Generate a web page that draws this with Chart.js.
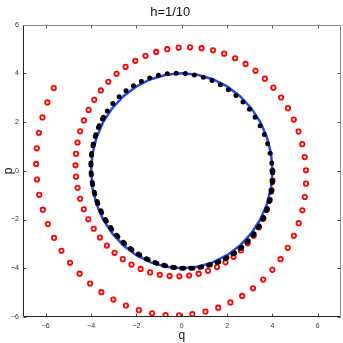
<!DOCTYPE html>
<html>
<head>
<meta charset="utf-8">
<script src="https://cdn.jsdelivr.net/npm/chart.js@4.4.1/dist/chart.umd.min.js"></script>
<style>
  html, body { margin: 0; padding: 0; background: #fff; }
  #wrap { width: 343px; height: 343px; }
</style>
</head>
<body>
<div id="wrap"><canvas id="chart" width="343" height="343"></canvas></div>
<script>
// explicit Euler (red open circles)
const qExplicit = [4.000, 4.000, 3.960, 3.880, 3.760, 3.602, 3.406, 3.174, 2.908, 2.610,
  2.283, 1.930, 1.554, 1.159, 0.748, 0.326, -0.104, -0.537, -0.969, -1.396,
  -1.813, -2.216, -2.601, -2.964, -3.301, -3.608, -3.882, -4.120, -4.319, -4.477,
  -4.592, -4.662, -4.686, -4.663, -4.594, -4.478, -4.316, -4.109, -3.859, -3.568,
  -3.238, -2.873, -2.475, -2.049, -1.598, -1.126, -0.638, -0.139, 0.367, 0.874,
  1.377, 1.872, 2.353, 2.815, 3.254, 3.664, 4.042, 4.383, 4.684, 4.941,
  5.151, 5.312, 5.421, 5.477, 5.479, 5.426, 5.319, 5.157, 4.942, 4.675,
  4.359, 3.996, 3.590, 3.144, 2.662, 2.148, 1.608, 1.046, 0.468, -0.120,
  -0.713, -1.305, -1.890, -2.462, -3.015, -3.543, -4.041, -4.504, -4.926, -5.303,
  -5.631, -5.906, -6.125, -6.285, -6.384, -6.420, -6.392, -6.300, -6.144, -5.925, -5.644];
const pExplicit = [0.000, -0.400, -0.800, -1.196, -1.584, -1.960, -2.320, -2.661, -2.978, -3.269,
  -3.530, -3.758, -3.951, -4.106, -4.222, -4.297, -4.330, -4.320, -4.266, -4.169,
  -4.029, -3.848, -3.626, -3.366, -3.070, -2.740, -2.379, -1.991, -1.579, -1.147,
  -0.699, -0.240, 0.226, 0.695, 1.161, 1.620, 2.068, 2.500, 2.911, 3.297,
  3.654, 3.978, 4.265, 4.513, 4.718, 4.878, 4.991, 5.055, 5.069, 5.032,
  4.945, 4.807, 4.620, 4.385, 4.104, 3.779, 3.413, 3.009, 2.571, 2.103,
  1.609, 1.094, 0.563, 0.021, -0.527, -1.075, -1.618, -2.150, -2.666, -3.160,
  -3.628, -4.064, -4.464, -4.823, -5.137, -5.403, -5.618, -5.779, -5.884, -5.931,
  -5.919, -5.848, -5.718, -5.529, -5.283, -4.982, -4.628, -4.224, -3.774, -3.281,
  -2.751, -2.188, -1.597, -0.985, -0.357, 0.281, 0.923, 1.562, 2.192, 2.806, 3.399];

// symplectic Euler (black dots)
const qSymplectic = [4.000, 4.000, 3.960, 3.880, 3.762, 3.606, 3.414, 3.188, 2.930, 2.642,
  2.328, 1.991, 1.634, 1.261, 0.875, 0.480, 0.081, -0.320, -0.717, -1.107,
  -1.486, -1.850, -2.195, -2.519, -2.817, -3.087, -3.327, -3.533, -3.704, -3.837,
  -3.933, -3.989, -4.005, -3.981, -3.917, -3.814, -3.673, -3.495, -3.283, -3.037,
  -2.761, -2.458, -2.130, -1.780, -1.413, -1.032, -0.640, -0.242, 0.159, 0.557,
  0.951, 1.335, 1.705, 2.058, 2.391, 2.700, 2.982, 3.234, 3.454, 3.639,
  3.788, 3.899, 3.971, 4.003, 3.995, 3.948, 3.860, 3.735, 3.571, 3.373,
  3.140, 2.876, 2.583, 2.265, 1.923, 1.563, 1.187, 0.799, 0.403, 0.003,
  -0.397, -0.793, -1.181, -1.558, -1.918, -2.260, -2.579, -2.872, -3.136, -3.369,
  -3.569, -3.733, -3.859, -3.947, -3.995, -4.003, -3.972, -3.900, -3.790, -3.642, -3.457];
const pSymplectic = [0.000, -0.400, -0.796, -1.184, -1.560, -1.921, -2.262, -2.581, -2.874, -3.138,
  -3.371, -3.570, -3.734, -3.860, -3.947, -3.995, -4.003, -3.971, -3.900, -3.789,
  -3.640, -3.455, -3.236, -2.984, -2.702, -2.394, -2.061, -1.708, -1.337, -0.953,
  -0.560, -0.161, 0.239, 0.637, 1.029, 1.410, 1.778, 2.127, 2.456, 2.759,
  3.035, 3.281, 3.494, 3.672, 3.813, 3.917, 3.981, 4.005, 3.989, 3.933,
  3.838, 3.705, 3.534, 3.328, 3.089, 2.819, 2.521, 2.198, 1.852, 1.488,
  1.109, 0.720, 0.322, -0.078, -0.477, -0.872, -1.258, -1.632, -1.989, -2.326,
  -2.640, -2.928, -3.186, -3.412, -3.605, -3.761, -3.880, -3.960, -4.000, -4.000,
  -3.960, -3.881, -3.763, -3.607, -3.415, -3.189, -2.932, -2.644, -2.331, -1.994,
  -1.637, -1.264, -0.878, -0.483, -0.084, 0.317, 0.714, 1.104, 1.483, 1.847, 2.193];

// exact solution (blue circle of radius 4)
const qExact = [4, 3.939, 3.759, 3.464, 3.064, 2.571, 2, 1.368, 0.695, 0,
  -0.695, -1.368, -2, -2.571, -3.064, -3.464, -3.759, -3.939, -4,
  -3.939, -3.759, -3.464, -3.064, -2.571, -2, -1.368, -0.695, 0,
  0.695, 1.368, 2, 2.571, 3.064, 3.464, 3.759, 3.939, 4];
const pExact = [0, 0.695, 1.368, 2, 2.571, 3.064, 3.464, 3.759, 3.939, 4,
  3.939, 3.759, 3.464, 3.064, 2.571, 2, 1.368, 0.695, 0,
  -0.695, -1.368, -2, -2.571, -3.064, -3.464, -3.759, -3.939, -4,
  -3.939, -3.759, -3.464, -3.064, -2.571, -2, -1.368, -0.695, 0];

const qTicks = [-6, -4, -2, 0, 2, 4, 6];
const pTicks = [-6, -4, -2, 0, 2, 4, 6];

const toPoints = (xs, ys) => xs.map((x, i) => ({ x: x, y: ys[i] }));
const fmt = v => (v < 0 ? '\u2212' + Math.abs(v) : String(v));
const FONT = 'Liberation Sans, Arial, sans-serif';

// MATLAB-like box with ticks pointing inward
const boxTicks = {
  id: 'boxTicks',
  afterDraw(chart) {
    const { ctx, chartArea: a, scales } = chart;
    const L = Math.round(a.left) + 0.5, R = Math.round(a.right) - 0.5;
    const T = Math.round(a.top) + 0.5, B = Math.round(a.bottom) - 0.5;
    ctx.save();
    ctx.lineWidth = 1;
    ctx.strokeStyle = '#555';
    ctx.beginPath();
    qTicks.forEach(v => {
      const x = Math.round(scales.x.getPixelForValue(v)) + 0.5;
      ctx.moveTo(x, B); ctx.lineTo(x, B - 3);
      ctx.moveTo(x, T); ctx.lineTo(x, T + 3);
    });
    pTicks.forEach(v => {
      const y = Math.round(scales.y.getPixelForValue(v)) + 0.5;
      ctx.moveTo(L, y); ctx.lineTo(L + 3, y);
      ctx.moveTo(R, y); ctx.lineTo(R - 3, y);
    });
    ctx.stroke();
    // top and right edges lighter
    ctx.strokeStyle = '#8a8a8a';
    ctx.beginPath();
    ctx.moveTo(L, T); ctx.lineTo(R, T); ctx.lineTo(R, B);
    ctx.stroke();
    // left and bottom axes
    ctx.strokeStyle = '#222';
    ctx.beginPath();
    ctx.moveTo(L, T); ctx.lineTo(L, B); ctx.lineTo(R, B);
    ctx.stroke();
    ctx.restore();
  }
};

new Chart(document.getElementById('chart'), {
  type: 'scatter',
  data: {
    datasets: [
      {
        label: 'symplectic Euler',
        data: toPoints(qSymplectic, pSymplectic),
        pointRadius: 2.5,
        pointBorderWidth: 0,
        pointBackgroundColor: '#000',
        order: 0
      },
      {
        label: 'exact',
        data: toPoints(qExact, pExact),
        showLine: true,
        borderColor: '#2747f0',
        borderWidth: 2.5,
        pointRadius: 0,
        order: 1
      },
      {
        label: 'explicit Euler',
        data: toPoints(qExplicit, pExplicit),
        pointRadius: 2.2,
        pointBorderWidth: 1.8,
        pointBorderColor: '#ff0000',
        pointBackgroundColor: 'rgba(255,255,255,0)',
        order: 2
      }
    ]
  },
  options: {
    responsive: false,
    animation: false,
    events: [],
    layout: { autoPadding: false, padding: { right: 2.5, left: 0, top: 0, bottom: 0 } },
    plugins: {
      legend: { display: false },
      tooltip: { enabled: false },
      title: {
        display: true,
        text: 'h=1/10',
        color: '#111',
        font: { family: FONT, size: 13, weight: 'normal' },
        padding: { top: 5, bottom: 4 }
      }
    },
    scales: {
      x: {
        min: -7, max: 7,
        afterBuildTicks: s => { s.ticks = qTicks.map(v => ({ value: v })); },
        afterFit: s => { s.height = 26; s.paddingLeft = 0; s.paddingRight = 0; },
        grid: { display: false, drawTicks: false },
        border: { display: false },
        ticks: {
          autoSkip: false, maxRotation: 0, padding: 5,
          color: '#333',
          font: { family: FONT, size: 7 },
          callback: v => fmt(v)
        },
        title: {
          display: true, text: 'q', color: '#111',
          font: { family: FONT, size: 12 },
          padding: { top: 0, bottom: 0 }
        }
      },
      y: {
        min: -6, max: 6,
        afterBuildTicks: s => { s.ticks = pTicks.map(v => ({ value: v })); },
        afterFit: s => { s.width = 23; },
        grid: { display: false, drawTicks: false },
        border: { display: false },
        ticks: {
          autoSkip: false, padding: 4,
          color: '#333',
          font: { family: FONT, size: 7 },
          callback: v => fmt(v)
        },
        title: {
          display: true, text: 'p', color: '#111',
          font: { family: FONT, size: 12 },
          padding: { top: 1, bottom: 0 }
        }
      }
    }
  },
  plugins: [boxTicks]
});
</script>
</body>
</html>
